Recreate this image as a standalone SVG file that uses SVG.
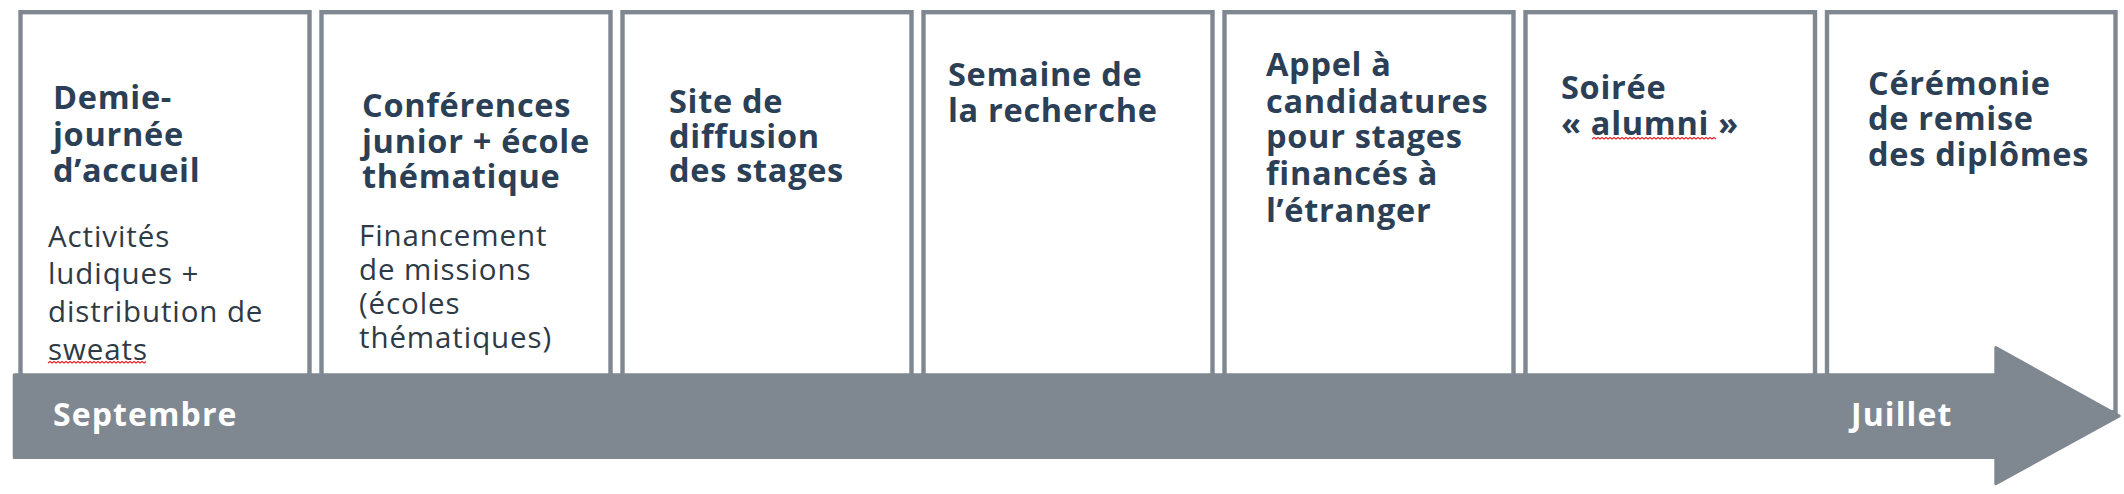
<svg xmlns="http://www.w3.org/2000/svg" width="2124" height="494" viewBox="0 0 2124 494">
<style>
.box{fill:#ffffff;stroke:#7f8891;stroke-width:4.4}
.t{font-family:"Open Sans","Liberation Sans",sans-serif;font-weight:700;font-size:32.5px;letter-spacing:0.7px;fill:#2b3f56}
.b{font-family:"Open Sans","Liberation Sans",sans-serif;font-weight:400;font-size:29.5px;letter-spacing:0.9px;fill:#2e3a46}
.m{font-family:"Open Sans","Liberation Sans",sans-serif;font-weight:700;font-size:32px;letter-spacing:1.1px;fill:#ffffff}
.sq{fill:none;stroke:#e8202a;stroke-width:1.1}
</style>
<rect width="2124" height="494" fill="#ffffff"/>
<g id="node-1">
<rect class="box" x="20.5" y="12.2" width="289" height="400"/>
<text class="t"><tspan x="53" y="109">Demie-</tspan><tspan x="53" y="146">journée</tspan><tspan x="53" y="182">d’accueil</tspan></text>
<text class="b"><tspan x="48" y="247">Activités</tspan><tspan x="48" y="284">ludiques +</tspan><tspan x="48" y="322">distribution de</tspan><tspan x="48" y="360">sweats</tspan></text>
<path class="sq" d="M48,363 l2,-1.5 l2,1.5 l2,-1.5 l2,1.5 l2,-1.5 l2,1.5 l2,-1.5 l2,1.5 l2,-1.5 l2,1.5 l2,-1.5 l2,1.5 l2,-1.5 l2,1.5 l2,-1.5 l2,1.5 l2,-1.5 l2,1.5 l2,-1.5 l2,1.5 l2,-1.5 l2,1.5 l2,-1.5 l2,1.5 l2,-1.5 l2,1.5 l2,-1.5 l2,1.5 l2,-1.5 l2,1.5 l2,-1.5 l2,1.5 l2,-1.5 l2,1.5 l2,-1.5 l2,1.5 l2,-1.5 l2,1.5 l2,-1.5 l2,1.5 l2,-1.5 l2,1.5 l2,-1.5 l2,1.5 l2,-1.5 l2,1.5 l2,-1.5 l2,1.5 l2,-1.5"/>
</g>
<g id="node-2">
<rect class="box" x="321.5" y="12.2" width="289" height="400"/>
<text class="t"><tspan x="362" y="117">Conférences</tspan><tspan x="362" y="153">junior + école</tspan><tspan x="362" y="188">thématique</tspan></text>
<text class="b"><tspan x="359" y="246">Financement</tspan><tspan x="359" y="280">de missions</tspan><tspan x="359" y="314">(écoles</tspan><tspan x="359" y="348">thématiques)</tspan></text>
</g>
<g id="node-3">
<rect class="box" x="622.5" y="12.2" width="289" height="400"/>
<text class="t"><tspan x="669" y="113">Site de</tspan><tspan x="669" y="148">diffusion</tspan><tspan x="669" y="182">des stages</tspan></text>
</g>
<g id="node-4">
<rect class="box" x="923.5" y="12.2" width="289" height="400"/>
<text class="t"><tspan x="948" y="86">Semaine de</tspan><tspan x="948" y="122">la recherche</tspan></text>
</g>
<g id="node-5">
<rect class="box" x="1224.5" y="12.2" width="289" height="400"/>
<text class="t"><tspan x="1266" y="76">Appel à</tspan><tspan x="1266" y="113">candidatures</tspan><tspan x="1266" y="148">pour stages</tspan><tspan x="1266" y="185">financés à</tspan><tspan x="1266" y="222">l’étranger</tspan></text>
</g>
<g id="node-6">
<rect class="box" x="1525.5" y="12.2" width="289.5" height="400"/>
<text class="t"><tspan x="1561" y="99">Soirée</tspan><tspan x="1561" y="135">« alumni »</tspan></text>
<path class="sq" d="M1592,139 l2,-1.5 l2,1.5 l2,-1.5 l2,1.5 l2,-1.5 l2,1.5 l2,-1.5 l2,1.5 l2,-1.5 l2,1.5 l2,-1.5 l2,1.5 l2,-1.5 l2,1.5 l2,-1.5 l2,1.5 l2,-1.5 l2,1.5 l2,-1.5 l2,1.5 l2,-1.5 l2,1.5 l2,-1.5 l2,1.5 l2,-1.5 l2,1.5 l2,-1.5 l2,1.5 l2,-1.5 l2,1.5 l2,-1.5 l2,1.5 l2,-1.5 l2,1.5 l2,-1.5 l2,1.5 l2,-1.5 l2,1.5 l2,-1.5 l2,1.5 l2,-1.5 l2,1.5 l2,-1.5 l2,1.5 l2,-1.5 l2,1.5 l2,-1.5 l2,1.5 l2,-1.5 l2,1.5 l2,-1.5 l2,1.5 l2,-1.5 l2,1.5 l2,-1.5 l2,1.5 l2,-1.5 l2,1.5 l2,-1.5 l2,1.5 l2,-1.5 l2,1.5"/>
</g>
<g id="node-7">
<rect class="box" x="1827" y="12.2" width="288.5" height="400"/>
<text class="t"><tspan x="1868" y="95">Cérémonie</tspan><tspan x="1868" y="130">de remise</tspan><tspan x="1868" y="166">des diplômes</tspan></text>
</g>
<g id="connectors">
<path id="timeline-arrow" d="M14.2,374.8 H1995.8 V347.6 L2119.2,416 L1995.8,483.8 V457.6 H14.2 Z" fill="#7f8891" stroke="#7f8891" stroke-width="3" stroke-linejoin="round"/>
<text class="m" x="53" y="426">Septembre</text>
<text class="m" x="1851" y="426">Juillet</text>
</g>
</svg>
